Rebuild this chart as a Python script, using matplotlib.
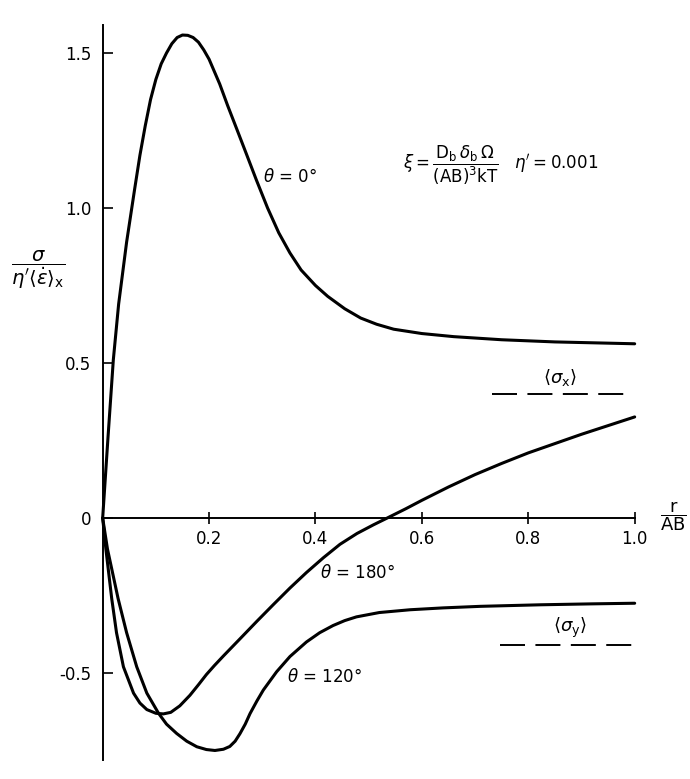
import matplotlib
matplotlib.use('Agg')
import matplotlib.pyplot as plt

# ── DATA ─────────────────────────────────────────────────────────────────────
r_theta0 = [0, 0.01, 0.02, 0.03, 0.045, 0.06, 0.07, 0.08, 0.09, 0.10, 0.11,
            0.12, 0.13, 0.14, 0.15, 0.16, 0.17, 0.18, 0.19, 0.20, 0.21, 0.22,
            0.235, 0.252, 0.27, 0.289, 0.31, 0.331, 0.352, 0.373, 0.40,
            0.423, 0.455, 0.485, 0.515, 0.547, 0.60, 0.66, 0.75, 0.85, 1.0]
s_theta0 = [0, 0.26, 0.51, 0.69, 0.89, 1.06, 1.17, 1.265, 1.35, 1.415, 1.465,
            1.50, 1.53, 1.55, 1.558, 1.557, 1.55, 1.535, 1.51, 1.48, 1.44,
            1.40, 1.33, 1.255, 1.175, 1.09, 1.00, 0.92, 0.855, 0.80, 0.75,
            0.715, 0.675, 0.645, 0.625, 0.609, 0.595, 0.585, 0.575, 0.568,
            0.562]

r_theta180 = [0, 0.006, 0.017, 0.026, 0.039, 0.058, 0.07, 0.083, 0.10, 0.114,
              0.128, 0.145, 0.164, 0.18, 0.195, 0.21, 0.227, 0.258, 0.29,
              0.321, 0.352, 0.383, 0.415, 0.446, 0.478, 0.509, 0.535, 0.57,
              0.60, 0.65, 0.70, 0.75, 0.80, 0.85, 0.90, 0.95, 1.0]
s_theta180 = [0, -0.10, -0.26, -0.37, -0.48, -0.565, -0.597, -0.618, -0.630,
              -0.632, -0.627, -0.606, -0.572, -0.538, -0.505, -0.476, -0.445,
              -0.39, -0.333, -0.279, -0.226, -0.176, -0.128, -0.085, -0.05,
              -0.022, 0.0, 0.030, 0.057, 0.10, 0.14, 0.176, 0.21, 0.24, 0.27,
              0.298, 0.326]

r_theta120 = [0, 0.009, 0.029, 0.045, 0.064, 0.083, 0.105, 0.12, 0.139, 0.158,
              0.177, 0.195, 0.211, 0.227, 0.239, 0.249, 0.258, 0.268, 0.277,
              0.29, 0.302, 0.327, 0.352, 0.383, 0.408, 0.433, 0.455, 0.477,
              0.52, 0.578, 0.64, 0.71, 0.823, 0.92, 1.0]
s_theta120 = [0, -0.10, -0.26, -0.37, -0.48, -0.565, -0.63, -0.665, -0.695,
              -0.72, -0.738, -0.747, -0.75, -0.746, -0.737, -0.72, -0.696,
              -0.665, -0.631, -0.59, -0.555, -0.496, -0.447, -0.40, -0.37,
              -0.347, -0.331, -0.319, -0.305, -0.296, -0.29, -0.285, -0.28,
              -0.277, -0.275]

sigma_x_avg = 0.40
sigma_x_span = [0.732, 0.984]
sigma_y_avg = -0.41
sigma_y_span = [0.747, 1.006]

x_ticks = [0.2, 0.4, 0.6, 0.8, 1.0]
x_ticklabels = ['0.2', '0.4', '0.6', '0.8', '1.0']
y_ticks = [-0.5, 0, 0.5, 1.0, 1.5]
y_ticklabels = ['-0.5', '0', '0.5', '1.0', '1.5']

# ── STYLE ────────────────────────────────────────────────────────────────────
plt.rcParams['font.family'] = ['DejaVu Sans']
plt.rcParams['mathtext.fontset'] = 'dejavusans'
plt.rcParams['lines.scale_dashes'] = False
INK = 'black'
CURVE_LW = 2.2
AXIS_LW = 1.4

fig = plt.figure(figsize=(6.9, 7.79), dpi=100)
ax = fig.add_axes([0, 0, 1, 1])
ax.set_xlim(-0.193, 1.104)
ax.set_ylim(-0.842, 1.671)

for r, s in [(r_theta0, s_theta0), (r_theta180, s_theta180),
             (r_theta120, s_theta120)]:
    ax.plot(r, s, color=INK, lw=CURVE_LW, solid_capstyle='round',
            solid_joinstyle='round')

ax.plot(sigma_x_span, [sigma_x_avg] * 2, color=INK, lw=1.4, dashes=(18, 7.5))
ax.plot(sigma_y_span, [sigma_y_avg] * 2, color=INK, lw=1.4, dashes=(18, 7.5))

# axes drawn through the origin
for side in ['top', 'right']:
    ax.spines[side].set_visible(False)
ax.spines['left'].set_position(('data', 0))
ax.spines['bottom'].set_position(('data', 0))
ax.spines['left'].set_bounds(-0.78, 1.59)
ax.spines['bottom'].set_bounds(0, 1.0)
for side in ['left', 'bottom']:
    ax.spines[side].set_linewidth(AXIS_LW)

ax.set_xticks(x_ticks)
ax.set_xticklabels(x_ticklabels)
ax.set_yticks(y_ticks)
ax.set_yticklabels(y_ticklabels)
ax.tick_params(axis='x', direction='inout', length=8, width=1.2, pad=5,
               labelsize=12)
ax.tick_params(axis='y', direction='in', length=7, width=1.2, pad=8,
               labelsize=12)

# axis labels
ax.text(-0.122, 0.80,
        r'$\dfrac{\sigma}{\eta^{\prime}\langle\dot{\varepsilon}\rangle_{\mathrm{x}}}$',
        fontsize=14, ha='center', va='center')
ax.text(1.072, 0.005, r'$\dfrac{\mathrm{r}}{\mathrm{AB}}$', fontsize=13,
        ha='center', va='center')

# annotations
ax.text(0.564, 1.139,
        r'$\xi = \dfrac{\mathrm{D_b}\,\delta_{\mathrm{b}}\,\Omega}'
        r'{(\mathrm{AB})^{3}\mathrm{kT}}\quad\eta^{\prime} = 0.001$',
        fontsize=12, ha='left', va='center')
ax.text(0.301, 1.10, r'$\theta$ = 0°', fontsize=12, ha='left', va='center')
ax.text(0.409, -0.177, r'$\theta$ = 180°', fontsize=12, ha='left',
        va='center')
ax.text(0.346, -0.513, r'$\theta$ = 120°', fontsize=12, ha='left',
        va='center')
ax.text(0.86, sigma_x_avg + 0.018, r'$\langle\sigma_{\mathrm{x}}\rangle$',
        fontsize=13, ha='center', va='bottom')
ax.text(0.878, sigma_y_avg + 0.018, r'$\langle\sigma_{\mathrm{y}}\rangle$',
        fontsize=13, ha='center', va='bottom')

fig.savefig('out.png', dpi=100, facecolor='white')
